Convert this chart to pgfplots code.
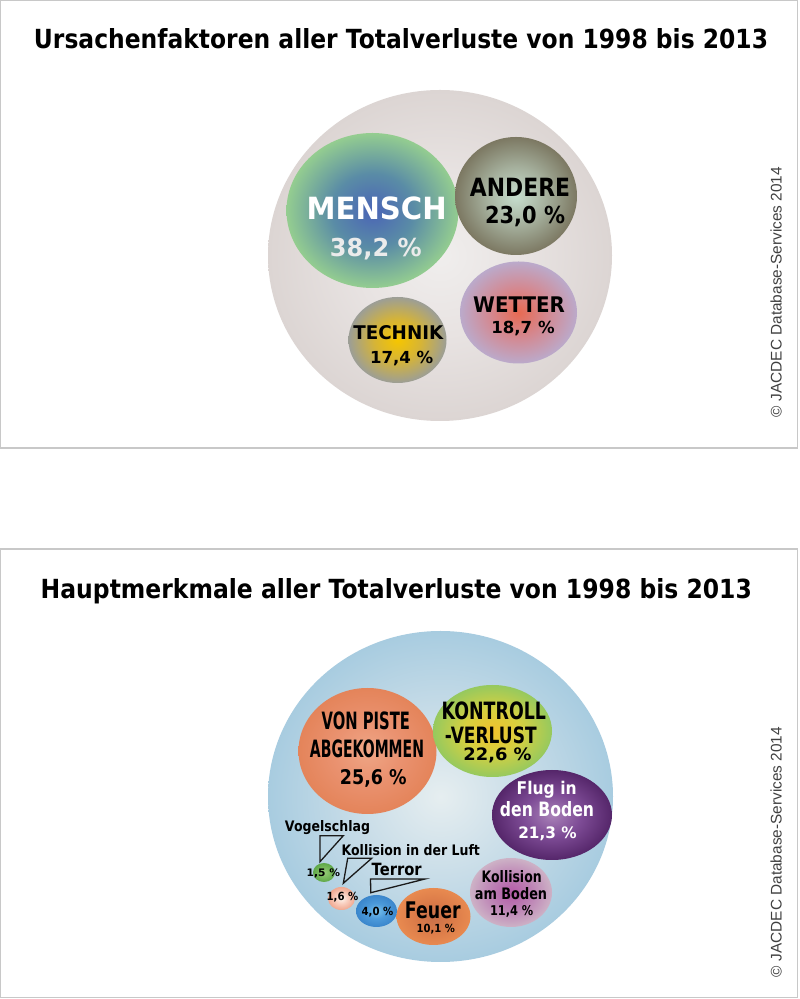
\documentclass[border=0pt]{standalone}
\usepackage{fontspec}
\setmainfont{DejaVu Sans}
\newfontfamily\copyfont{Liberation Sans}
\usepackage{graphicx}
\usepackage{pgfplots}
\usepackage{pgfplotstable}
\pgfplotsset{compat=1.18}

\newcommand\T[3]{\resizebox{#1pt}{#2pt}{\bfseries #3}}

% colours
\definecolor{bgAC}{HTML}{F0EEED}\definecolor{bgAM}{HTML}{E8E3E2}\definecolor{bgAE}{HTML}{DCD5D3}
\definecolor{menC}{HTML}{4A64B6}\definecolor{menM}{HTML}{5A8CA6}\definecolor{menE}{HTML}{94CD90}
\definecolor{andC}{HTML}{C6DECE}\definecolor{andM}{HTML}{A6B19E}\definecolor{andE}{HTML}{7C7862}
\definecolor{wetC}{HTML}{E86A52}\definecolor{wetM}{HTML}{D48890}\definecolor{wetE}{HTML}{BBAACB}
\definecolor{tecC}{HTML}{F6C600}\definecolor{tecM}{HTML}{D6B436}\definecolor{tecE}{HTML}{9C9E96}
\definecolor{bgBC}{HTML}{E6EEF0}\definecolor{bgBM}{HTML}{C9DDE8}\definecolor{bgBE}{HTML}{A8CCE0}
\definecolor{pisC}{HTML}{EFA686}\definecolor{pisM}{HTML}{EA9270}\definecolor{pisE}{HTML}{E4845A}
\definecolor{konC}{HTML}{F2C22C}\definecolor{konM}{HTML}{D6D040}\definecolor{konE}{HTML}{96C95E}
\definecolor{fluC}{HTML}{A982B8}\definecolor{fluM}{HTML}{7E4C96}\definecolor{fluE}{HTML}{55266A}
\definecolor{kolC}{HTML}{B45AA8}\definecolor{kolM}{HTML}{BC80B4}\definecolor{kolE}{HTML}{CDB2C6}
\definecolor{feuC}{HTML}{C8704A}\definecolor{feuM}{HTML}{DA7A48}\definecolor{feuE}{HTML}{E88A50}
\definecolor{terC}{HTML}{78C2EC}\definecolor{terM}{HTML}{4C9ADA}\definecolor{terE}{HTML}{3A86CC}
\definecolor{lufC}{HTML}{FFF4EC}\definecolor{lufM}{HTML}{F8CCBC}\definecolor{lufE}{HTML}{F0A890}
\definecolor{vogC}{HTML}{98CC78}\definecolor{vogM}{HTML}{7CBA60}\definecolor{vogE}{HTML}{5EA848}
\definecolor{txtC}{HTML}{1A1A1A}
\definecolor{frameC}{HTML}{C8C8C8}

\newcommand\mkshade[2]{\pgfdeclareradialshading{#1}{\pgfpoint{0bp}{0bp}}{color(0bp)=(#2C); color(12bp)=(#2M); color(25bp)=(#2E); color(50bp)=(#2E)}}
\mkshade{shbgA}{bgA}\mkshade{shmen}{men}\mkshade{shand}{and}\mkshade{shwet}{wet}\mkshade{shtec}{tec}
\mkshade{shbgB}{bgB}\mkshade{shpis}{pis}\mkshade{shkon}{kon}\mkshade{shflu}{flu}\mkshade{shkol}{kol}
\mkshade{shfeu}{feu}\mkshade{shter}{ter}\mkshade{shluf}{luf}\mkshade{shvog}{vog}

% bubble marks: name, x radius, y radius (px), shading
\newcommand\mkbub[4]{\pgfdeclareplotmark{#1}{%
  \pgfpathellipse{\pgfpointorigin}{\pgfqpoint{#2pt}{0pt}}{\pgfqpoint{0pt}{#3pt}}%
  \pgfshadepath{#4}{0}\pgfusepath{discard}}}
\mkbub{b-bgA}{172}{165.5}{shbgA}
\mkbub{b-men}{86}{77.5}{shmen}
\mkbub{b-and}{61}{59}{shand}
\mkbub{b-wet}{58.5}{51}{shwet}
\mkbub{b-tec}{49}{43}{shtec}
\mkbub{b-bgB}{172.5}{165.5}{shbgB}
\mkbub{b-pis}{69}{63}{shpis}
\mkbub{b-kon}{59.5}{46}{shkon}
\mkbub{b-flu}{60}{45}{shflu}
\mkbub{b-kol}{41}{34.5}{shkol}
\mkbub{b-feu}{37}{28.5}{shfeu}
\mkbub{b-ter}{20.5}{16}{shter}
\mkbub{b-luf}{13.5}{11.5}{shluf}
\mkbub{b-vog}{11}{9.5}{shvog}

% Ursachenfaktoren (share in %), bubble centres in px
\pgfplotstableread{
x     y     share class
440   255.5 100   bgA
372.5 210.5 38.2  men
516   196   23.0  and
518.5 312.5 18.7  wet
397.5 340   17.4  tec
}\causes

% Hauptmerkmale (share in %)
\pgfplotstableread{
x     y     share class
440.5 796.5 100   bgB
367.5 751   25.6  pis
492.5 731   22.6  kon
552   815   21.3  flu
511   892.5 11.4  kol
433.5 916.5 10.1  feu
376.5 911   4.0   ter
341.5 898.5 1.6   luf
324   872.5 1.5   vog
}\features

\begin{document}
\begin{tikzpicture}
\begin{axis}[
  set layers,
  width=800pt, height=999pt, scale only axis,
  xmin=0, xmax=800, ymin=0, ymax=999, y dir=reverse,
  hide axis, clip=false,
  every node/.append style={inner sep=0pt, outer sep=0pt, text=txtC},
  bubble/.style={scatter, only marks, point meta=explicit symbolic,
    scatter/classes={
      bgA={mark=b-bgA}, men={mark=b-men}, and={mark=b-and}, wet={mark=b-wet}, tec={mark=b-tec},
      bgB={mark=b-bgB}, pis={mark=b-pis}, kon={mark=b-kon}, flu={mark=b-flu}, kol={mark=b-kol},
      feu={mark=b-feu}, ter={mark=b-ter}, luf={mark=b-luf}, vog={mark=b-vog}}},
]
\begin{pgfonlayer}{axis background}
\fill[white] (axis cs:0,0) rectangle (axis cs:800,999);
\draw[frameC, line width=1.3pt] (axis cs:0.8,0.8) rectangle (axis cs:797.3,448);
\draw[frameC, line width=1.3pt] (axis cs:0.8,549) rectangle (axis cs:797.3,997.5);
\end{pgfonlayer}

\addplot[bubble] table[x=x, y=y, meta=class] {\causes};
\addplot[bubble] table[x=x, y=y, meta=class] {\features};

\begin{pgfonlayer}{axis foreground}
% titles
\node[anchor=base] at (axis cs:401,48.3) {\T{734}{20}{Ursachenfaktoren aller Totalverluste von 1998 bis 2013}};
\node[anchor=base] at (axis cs:396.3,598.3) {\T{711}{20}{Hauptmerkmale aller Totalverluste von 1998 bis 2013}};

% copyright
\node[rotate=90, text=black!75] at (axis cs:776,292) {\resizebox{250pt}{!}{\copyfont © JACDEC Database-Services 2014}};
\node[rotate=90, text=black!75] at (axis cs:776,852) {\resizebox{250pt}{!}{\copyfont © JACDEC Database-Services 2014}};

% top labels
\node[anchor=base, text=white] at (axis cs:376.7,219.3) {\T{140}{22.7}{MENSCH}};
\node[anchor=base, text=white!92!black] at (axis cs:375.8,256.7) {\T{91.7}{18.3}{38,2 \%}};
\node[anchor=base] at (axis cs:520,196.7) {\T{100}{18.3}{ANDERE}};
\node[anchor=base] at (axis cs:525,224) {\T{80}{17.3}{23,0 \%}};
\node[anchor=base] at (axis cs:519,312.3) {\T{91.7}{15.7}{WETTER}};
\node[anchor=base] at (axis cs:523,333.3) {\T{63.3}{12.3}{18,7 \%}};
\node[anchor=base] at (axis cs:398.3,339.3) {\T{90}{14}{TECHNIK}};
\node[anchor=base] at (axis cs:401.7,364) {\T{63.3}{12.3}{17,4 \%}};

% bottom labels
\node[anchor=base] at (axis cs:365.8,729.3) {\T{88.3}{17.7}{VON PISTE}};
\node[anchor=base] at (axis cs:367,757.7) {\T{114}{17.7}{ABGEKOMMEN}};
\node[anchor=base] at (axis cs:373.3,785) {\T{66.7}{15}{25,6 \%}};
\node[anchor=base] at (axis cs:493.8,719.3) {\T{104.3}{17.7}{KONTROLL}};
\node[anchor=base] at (axis cs:490.8,743.3) {\T{91.7}{16.7}{-VERLUST}};
\node[anchor=base] at (axis cs:497.5,761) {\T{68.3}{12.7}{22,6 \%}};
\node[anchor=base, text=white] at (axis cs:546.7,795) {\T{60}{13.3}{Flug in}};
\node[anchor=base, text=white] at (axis cs:547,816.7) {\T{94}{15}{den Boden}};
\node[anchor=base, text=white] at (axis cs:547.5,838.3) {\T{58.3}{11.7}{21,3 \%}};
\node[anchor=base] at (axis cs:511.7,882.7) {\T{60}{12}{Kollision}};
\node[anchor=base] at (axis cs:511,899.3) {\T{72.3}{12}{am Boden}};
\node[anchor=base] at (axis cs:511.7,916) {\T{43.3}{10}{11,4 \%}};
\node[anchor=base] at (axis cs:432.8,919) {\T{55.7}{16.7}{Feuer}};
\node[anchor=base] at (axis cs:435.8,932.5) {\T{38.3}{8.3}{10,1 \%}};
\node[anchor=base] at (axis cs:377.5,915.7) {\T{31.7}{8.3}{4,0 \%}};
\node[anchor=base] at (axis cs:342.5,901) {\T{31.7}{8.3}{1,6 \%}};
\node[anchor=base] at (axis cs:323.3,876.7) {\T{33.3}{7.7}{1,5 \%}};
\node[anchor=base] at (axis cs:327.5,831.7) {\T{85}{11}{Vogelschlag}};
\node[anchor=base] at (axis cs:410.8,856) {\T{138.3}{11}{Kollision in der Luft}};
\node[anchor=base] at (axis cs:396.7,876) {\T{50}{12.3}{Terror}};

% callouts
\draw[txtC, line width=1.3pt, line join=miter] (axis cs:343.3,835.7) -- (axis cs:320,835.7) -- (axis cs:320,861.7) -- cycle;
\draw[txtC, line width=1.3pt, line join=miter] (axis cs:371.7,858.3) -- (axis cs:347.7,858.3) -- (axis cs:343.3,883.3) -- cycle;
\draw[txtC, line width=1.3pt, line join=miter] (axis cs:425,879) -- (axis cs:370.5,879) -- (axis cs:370.8,892.7) -- cycle;
\end{pgfonlayer}
\end{axis}
\end{tikzpicture}
\end{document}
